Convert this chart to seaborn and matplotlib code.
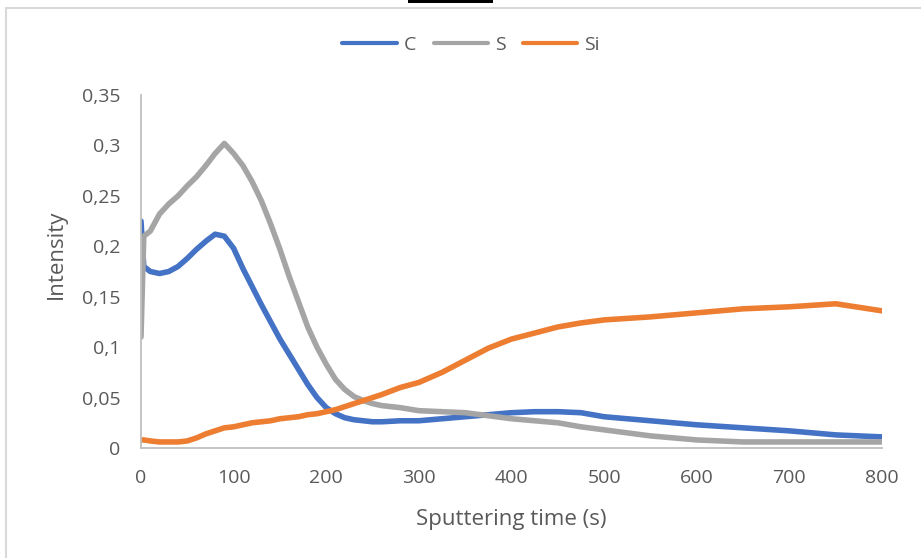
import matplotlib
matplotlib.use("Agg")
import matplotlib.pyplot as plt
import seaborn as sns
import pandas as pd
from matplotlib.patches import Rectangle
from matplotlib.lines import Line2D

time_s = [0, 3, 10, 20, 30, 40, 50, 60, 70, 80, 90, 100, 110, 120, 130, 140, 150,
          160, 170, 180, 190, 200, 210, 220, 230, 240, 250, 260, 280, 300, 325, 350,
          375, 400, 425, 450, 475, 500, 550, 600, 650, 700, 750, 800]
c_vals = [0.225, 0.18, 0.175, 0.173, 0.175, 0.18, 0.188, 0.197, 0.205, 0.212, 0.21,
          0.198, 0.178, 0.16, 0.142, 0.125, 0.108, 0.093, 0.078, 0.063, 0.05, 0.04,
          0.034, 0.03, 0.028, 0.027, 0.026, 0.026, 0.027, 0.027, 0.029, 0.031, 0.033,
          0.035, 0.036, 0.036, 0.035, 0.031, 0.027, 0.023, 0.02, 0.017, 0.013, 0.011]
s_vals = [0.11, 0.21, 0.215, 0.232, 0.242, 0.25, 0.26, 0.269, 0.28, 0.292, 0.302,
          0.292, 0.28, 0.264, 0.245, 0.222, 0.197, 0.17, 0.145, 0.12, 0.1, 0.083,
          0.068, 0.058, 0.051, 0.047, 0.044, 0.042, 0.04, 0.037, 0.036, 0.035, 0.032,
          0.029, 0.027, 0.025, 0.021, 0.018, 0.012, 0.008, 0.006, 0.006, 0.006, 0.006]
si_vals = [0.008, 0.008, 0.007, 0.006, 0.006, 0.006, 0.007, 0.01, 0.014, 0.017, 0.02,
           0.021, 0.023, 0.025, 0.026, 0.027, 0.029, 0.03, 0.031, 0.033, 0.034, 0.036,
           0.038, 0.041, 0.044, 0.047, 0.05, 0.053, 0.06, 0.065, 0.075, 0.087, 0.099,
           0.108, 0.114, 0.12, 0.124, 0.127, 0.13, 0.134, 0.138, 0.14, 0.143, 0.136]
series_names = ["C", "S", "Si"]
colors = ["#4472C4", "#A5A5A5", "#ED7D31"]
x_ticks = [0, 100, 200, 300, 400, 500, 600, 700, 800]
y_ticks = [0, 0.05, 0.1, 0.15, 0.2, 0.25, 0.3, 0.35]
y_tick_labels = ["0", "0,05", "0,1", "0,15", "0,2", "0,25", "0,3", "0,35"]

df = pd.concat([
    pd.DataFrame({"time": time_s, "value": vals, "series": name})
    for name, vals in zip(series_names, [c_vals, s_vals, si_vals])
])

sns.set_theme(style="white")
plt.rcParams["font.family"] = ["Open Sans", "DejaVu Sans"]

W, H = 921, 558
fig = plt.figure(figsize=(W/100, H/100), dpi=100)
ax = fig.add_axes([141/W, 1 - 448/H, (882-141)/W, (448-95)/H])

sns.lineplot(data=df, x="time", y="value", hue="series", palette=colors,
             hue_order=series_names, linewidth=4.0, ax=ax, legend=False)

ax.set_xlim(0, 800)
ax.set_ylim(0, 0.35)
ax.set_xticks(x_ticks)
ax.set_yticks(y_ticks)
ax.set_yticklabels(y_tick_labels)
txt = "#595959"
ax.tick_params(axis="both", length=0, labelsize=14, colors=txt)
ax.tick_params(axis="x", pad=15)
ax.tick_params(axis="y", pad=15)
for sp in ["top", "right"]:
    ax.spines[sp].set_visible(False)
for sp in ["left", "bottom"]:
    ax.spines[sp].set_color("#BFBFBF")
    ax.spines[sp].set_linewidth(1.3)
ax.set_xlabel("Sputtering time (s)", fontsize=16, color=txt)
ax.set_ylabel("Intensity", fontsize=16, color=txt)
ax.xaxis.set_label_coords(511/W, 1 - 519/H, transform=fig.transFigure)
ax.yaxis.set_label_coords(56/W, 1 - 254/H, transform=fig.transFigure)
ax.xaxis.label.set_va("center")
ax.yaxis.label.set_va("center")

handles = [Line2D([0], [0], color=c, lw=3) for c in colors]
fig.legend(handles, series_names, loc="center", bbox_to_anchor=(471/W, 1 - 45/H),
           ncol=3, frameon=False, fontsize=14, handlelength=2.8, handletextpad=0.35,
           columnspacing=0.9, labelcolor=txt)

# chart border and black bar at top
fig.patches.append(Rectangle((6/W, -0.1), 1.2, 1 - 8/H + 0.1, transform=fig.transFigure,
                             fill=False, edgecolor="#D9D9D9", linewidth=1.5))
fig.patches.append(Rectangle((408/W, 1 - 3/H), 85/W, 3/H + 0.01,
                             transform=fig.transFigure, facecolor="black",
                             edgecolor="none"))

fig.savefig("out.png", dpi=100)
